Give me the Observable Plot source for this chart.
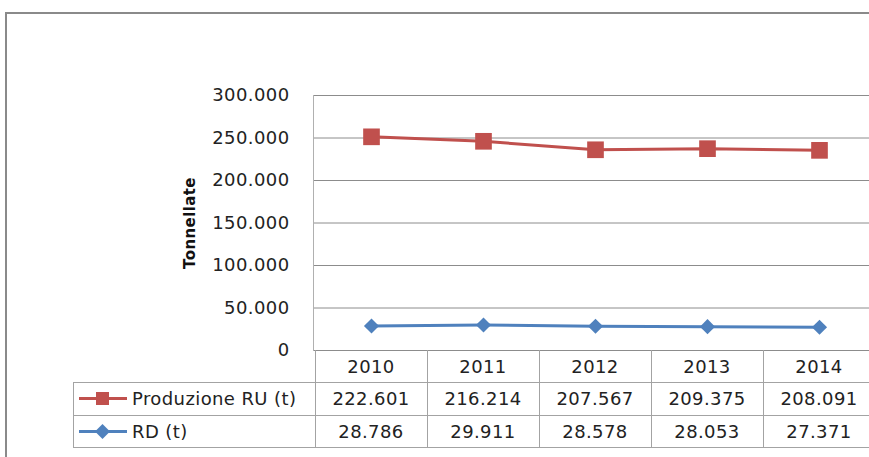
<!DOCTYPE html>
<html><head><meta charset="utf-8">
<script src="https://cdn.jsdelivr.net/npm/d3@7"></script>
<script src="https://cdn.jsdelivr.net/npm/@observablehq/plot@0.6"></script>
<style>
body{margin:0;background:#fff;width:869px;height:457px;overflow:hidden;font-family:"DejaVu Sans",sans-serif;}
#wrap{position:relative;width:869px;height:457px;overflow:hidden;background:#fff;}
#border{position:absolute;left:5px;top:12px;width:900px;height:500px;border-top:2px solid #8a8a8a;border-left:2px solid #8a8a8a;}
#chart{position:absolute;left:0;top:0;}
.cell{position:absolute;display:flex;align-items:center;justify-content:center;font-size:18px;color:#222;letter-spacing:0.4px;white-space:nowrap;}
.ln{position:absolute;background:#a3a3a3;}
</style></head><body><div id="wrap"><div id="border"></div><div id="chart"></div><div id="table"></div></div>
<script>
const years = [2010, 2011, 2012, 2013, 2014];
const seriesNames = ["Produzione RU (t)", "RD (t)"];
const produzioneRU = [222601, 216214, 207567, 209375, 208091];
const rd = [28786, 29911, 28578, 28053, 27371];
const yTicks = [0, 50000, 100000, 150000, 200000, 250000, 300000];
const colors = ["#C0504D", "#4F81BD"];
const yLabel = "Tonnellate";

const fmt = d3.formatLocale({decimal: ",", thousands: ".", grouping: [3], currency: ["€", ""]}).format(",d");
// The original is a stacked line chart: RU is drawn stacked on top of RD
const ruPlotted = produzioneRU.map((v, i) => v + rd[i]);
const ruData = years.map((year, i) => ({year, value: ruPlotted[i]}));
const rdData = years.map((year, i) => ({year, value: rd[i]}));

const plot = Plot.plot({
  width: 869, height: 351,
  marginLeft: 313, marginRight: 0, marginTop: 95, marginBottom: 1,
  style: {fontFamily: "DejaVu Sans", fontSize: "18px", color: "#222", background: "transparent", overflow: "visible", letterSpacing: "0.4px"},
  x: {type: "band", domain: years, range: [313, 876], padding: 0, axis: null},
  y: {domain: [0, 300000], axis: null},
  marks: [
    Plot.ruleY(yTicks, {stroke: "#8c8c8c", strokeWidth: 1}),
    Plot.frame({anchor: "left", stroke: "#b0b0b0"}),
    Plot.axisY(yTicks, {tickSize: 0, tickPadding: 24, tickFormat: fmt, label: null, fontSize: 18}),
    Plot.text([yLabel], {frameAnchor: "left", textAnchor: "middle", dx: -123, rotate: -90, fontWeight: "bold", fontSize: 15, fill: "#111", letterSpacing: "0px"}),
    Plot.line(rdData, {x: "year", y: "value", stroke: colors[1], strokeWidth: 3}),
    Plot.dot(rdData, {x: "year", y: "value", symbol: "diamond2", r: 6.8, fill: colors[1]}),
    Plot.line(ruData, {x: "year", y: "value", stroke: colors[0], strokeWidth: 3}),
    Plot.dot(ruData, {x: "year", y: "value", symbol: "square", r: 9.4, fill: colors[0]})
  ]
});
document.getElementById("chart").appendChild(plot);

// data table below the plot, aligned to the x scale
const xs = plot.scale("x");
const bw = xs.bandwidth;
const edges = years.map(y => xs.apply(y));
edges.push(edges[edges.length - 1] + bw);
const tableLeft = 73;
const rows = [350, 382, 415, 447];
const tbl = document.getElementById("table");
function line(l, t, w, h) {
  const d = document.createElement("div"); d.className = "ln";
  Object.assign(d.style, {left: l + "px", top: t + "px", width: w + "px", height: h + "px"});
  tbl.appendChild(d);
}
function cell(l, t, w, h, html, extra) {
  const d = document.createElement("div"); d.className = "cell";
  Object.assign(d.style, {left: l + "px", top: t + "px", width: w + "px", height: h + "px"}, extra || {});
  d.innerHTML = html; tbl.appendChild(d);
}
// grid lines of the table
line(tableLeft, rows[1], edges[edges.length - 1] - tableLeft, 1);
line(tableLeft, rows[2], edges[edges.length - 1] - tableLeft, 1);
line(tableLeft, rows[3], edges[edges.length - 1] - tableLeft, 1);
line(tableLeft, rows[1], 1, rows[3] - rows[1] + 1);
edges.forEach(e => line(Math.round(e), rows[0], 1, rows[3] - rows[0] + 1));
// header
years.forEach((y, i) => cell(edges[i], rows[0], bw, rows[1] - rows[0], String(y)));
// rows
const values = [produzioneRU, rd];
const symbols = [
  `<rect x="18" y="3" width="13" height="13" fill="${colors[0]}"/>`,
  `<path d="M24.5 2 L32 9.5 L24.5 17 L17 9.5 Z" fill="${colors[1]}"/>`
];
values.forEach((vals, r) => {
  const top = rows[r + 1], h = rows[r + 2] - rows[r + 1];
  const sw = `<svg width="50" height="19" style="margin-right:4px;flex:none"><line x1="1" x2="49" y1="9.5" y2="9.5" stroke="${colors[r]}" stroke-width="3"/>${symbols[r]}</svg>`;
  cell(tableLeft + 5, top, edges[0] - tableLeft - 5, h, sw + `<span>${seriesNames[r]}</span>`, {justifyContent: "flex-start"});
  vals.forEach((v, i) => cell(edges[i], top, bw, h, fmt(v)));
});
</script></body></html>
